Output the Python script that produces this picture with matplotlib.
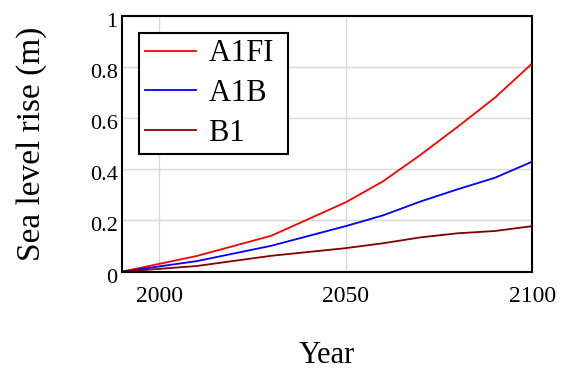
import matplotlib.pyplot as plt
from matplotlib.transforms import ScaledTranslation

plt.rcParams['font.family'] = ['Liberation Serif', 'DejaVu Serif']

# projected sea level rise by emission scenario
years = [1990, 2010, 2030, 2050, 2060, 2070, 2080, 2090, 2100]
a1fi = [0.0, 0.061, 0.140, 0.271, 0.353, 0.456, 0.566, 0.680, 0.814]
a1b = [0.0, 0.041, 0.101, 0.178, 0.220, 0.274, 0.322, 0.367, 0.430]
b1 = [0.0, 0.022, 0.062, 0.092, 0.111, 0.134, 0.150, 0.159, 0.178]

series = [("A1FI", a1fi, "#ff0000"),
          ("A1B", a1b, "#0000ff"),
          ("B1", b1, "#800000")]

fig = plt.figure(figsize=(5.67, 3.69), dpi=100)
ax = fig.add_axes([0.2146, 0.2637, 0.7242, 0.6938])

for name, vals, col in series:
    ax.plot(years, vals, color=col, lw=1.3, label=name + " ")

ax.set_xlim(1990, 2100)
ax.set_ylim(0, 1)
ax.set_xticks([2000, 2050, 2100])
ax.set_yticks([0, 0.2, 0.4, 0.6, 0.8, 1])
ax.set_yticklabels(["0", "0.2", "0.4", "0.6", "0.8", "1"])
ax.grid(True, color="#d9d9d9", lw=1.0)
ax.set_axisbelow(True)
ax.tick_params(axis="both", length=0)
ax.tick_params(axis="x", pad=10, labelsize=17)
ax.tick_params(axis="y", pad=3, labelsize=16)
# y labels sit a little below their gridlines
shift = ScaledTranslation(0, -0.04, fig.dpi_scale_trans)
for lbl in ax.get_yticklabels():
    lbl.set_transform(lbl.get_transform() + shift)
for sp in ax.spines.values():
    sp.set_linewidth(1.5)

ax.set_xlabel("Year", fontsize=22, labelpad=25)
ax.set_ylabel("Sea level rise (m)", fontsize=24, labelpad=31)

leg = ax.legend(loc="upper left", bbox_to_anchor=(0.043, 0.931), fontsize=22,
                fancybox=False, framealpha=1, edgecolor="black",
                handlelength=1.67, handletextpad=0.42, borderpad=0.2,
                labelspacing=0.35, borderaxespad=0)
leg.get_frame().set_linewidth(1.5)

fig.savefig("out.png", dpi=100)
